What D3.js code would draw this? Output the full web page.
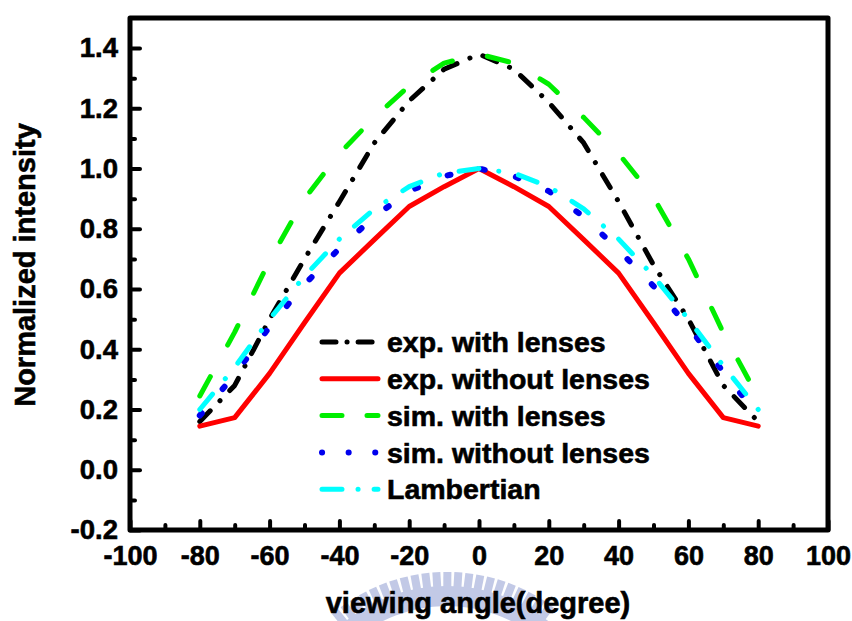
<!DOCTYPE html>
<html>
<head>
<meta charset="utf-8">
<script src="https://cdn.jsdelivr.net/npm/d3@7"></script>
<style>
  html, body { margin: 0; padding: 0; background: #fff; }
  svg { display: block; font-family: "Liberation Sans", Arial, sans-serif; font-weight: bold; }
  svg text { stroke: #000; stroke-width: 0.6px; }
</style>
</head>
<body>
<svg id="chart" width="852" height="621"></svg>
<script>
// Viewing angles (degrees) at which intensity was sampled
const angles = [-80, -70, -60, -50, -40, -30, -20, -10, 0, 10, 20, 30, 40, 50, 60, 70, 80];

// Normalized intensity series
const expWithLenses    = [0.16, 0.28, 0.50, 0.70, 0.89, 1.085, 1.225, 1.33, 1.38, 1.33, 1.22, 1.085, 0.89, 0.68, 0.50, 0.28, 0.16];
const expWithoutLenses = [0.145, 0.173, 0.32, 0.488, 0.653, 0.764, 0.874, 0.94, 1.0, 0.94, 0.874, 0.764, 0.653, 0.488, 0.32, 0.173, 0.145];
const simWithLenses    = [0.245, 0.457, 0.695, 0.90, 1.05, 1.17, 1.275, 1.35, 1.38, 1.35, 1.28, 1.17, 1.05, 0.905, 0.70, 0.455, 0.24];
const simWithoutLenses = [0.18, 0.315, 0.475, 0.615, 0.735, 0.84, 0.925, 0.975, 1.0, 0.975, 0.925, 0.84, 0.73, 0.61, 0.475, 0.325, 0.18];
const lambertian       = [0.20, 0.34, 0.50, 0.643, 0.766, 0.866, 0.94, 0.985, 1.0, 0.985, 0.94, 0.866, 0.766, 0.643, 0.50, 0.345, 0.20];

const seriesNames = ["exp. with lenses", "exp. without lenses", "sim. with lenses", "sim. without lenses", "Lambertian"];

// Axis ticks
const xMajorTicks = [-100, -80, -60, -40, -20, 0, 20, 40, 60, 80, 100];
const xMinorTicks = [-90, -70, -50, -30, -10, 10, 30, 50, 70, 90];
const yMajorTicks = [-0.2, 0.0, 0.2, 0.4, 0.6, 0.8, 1.0, 1.2, 1.4];
const yMinorTicks = [-0.1, 0.1, 0.3, 0.5, 0.7, 0.9, 1.1, 1.3];

const svg = d3.select("#chart");
const plotLeft = 130, plotRight = 828, plotTop = 18, plotBottom = 530;

const x = d3.scaleLinear().domain([-100, 100]).range([plotLeft, plotRight]);
const y = d3.scaleLinear().domain([-0.2, 1.5]).range([plotBottom, plotTop]);

// Tick label formats using a plain hyphen for negatives
const hyphen = f => d => f(d).replace("\u2212", "-");
const fmtX = hyphen(d3.format("d"));
const fmtY = hyphen(d3.format(".1f"));

// Faint emblem watermark behind the axis title
const wm = svg.append("g").attr("fill", "#b3bce0").attr("opacity", 0.8);
const wmCx = 447, wmCy = 750, wmR = 178;
wm.append("path")
  .attr("d", d3.arc().innerRadius(wmR - 34).outerRadius(wmR - 14).startAngle(-0.72).endAngle(0.70)())
  .attr("transform", `translate(${wmCx},${wmCy})`);
d3.range(-0.68, 0.68, 0.062).forEach(a => {
  wm.append("rect")
    .attr("x", -4).attr("y", -wmR).attr("width", 8).attr("height", 18)
    .attr("transform", `translate(${wmCx},${wmCy}) rotate(${a * 180 / Math.PI})`);
});

// Axes with inward ticks
const tickStyle = g => {
  g.select(".domain").remove();
  g.selectAll(".tick line").attr("stroke", "#000").attr("stroke-width", 4).attr("stroke-linecap", "round");
  g.selectAll(".tick text").attr("fill", "#000").attr("font-weight", "bold")
    .attr("font-family", "Liberation Sans, Arial, sans-serif");
};

svg.append("g")
  .attr("transform", `translate(0,${plotBottom})`)
  .call(d3.axisBottom(x).tickValues(xMinorTicks).tickSize(-5).tickFormat(""))
  .call(tickStyle);
svg.append("g")
  .attr("transform", `translate(0,${plotBottom})`)
  .call(d3.axisBottom(x).tickValues(xMajorTicks).tickSize(-9).tickPadding(16).tickFormat(fmtX))
  .call(tickStyle)
  .call(g => g.selectAll(".tick text").attr("font-size", 27));

svg.append("g")
  .attr("transform", `translate(${plotLeft},0)`)
  .call(d3.axisLeft(y).tickValues(yMinorTicks).tickSize(-5).tickFormat(""))
  .call(tickStyle);
svg.append("g")
  .attr("transform", `translate(${plotLeft},0)`)
  .call(d3.axisLeft(y).tickValues(yMajorTicks).tickSize(-10).tickPadding(12).tickFormat(fmtY))
  .call(tickStyle)
  .call(g => g.selectAll(".tick text").attr("font-size", 27.5));

// Series lines
const line = d3.line().x((d, i) => x(angles[i])).y(d => y(d));

const styles = [
  { data: expWithLenses,    color: "#000000", dash: "15,14,0.1,14", legendDash: "14,11,0.1,11", width: 5 },
  { data: expWithoutLenses, color: "#ff0000", dash: null,           legendDash: null,           width: 5 },
  { data: simWithLenses,    color: "#00ee00", dash: "22,36",        legendDash: "20,25",        width: 5 },
  { data: simWithoutLenses, color: "#0000ee", dash: "3,32",         legendDash: "0.1,26.5",     width: 6 },
  { data: lambertian,       color: "#00ffff", dash: "20,20,0.1,20", legendDash: "20,16,0.1,16", width: 5 }
];

const plot = svg.append("g");
styles.forEach(s => {
  plot.append("path")
    .datum(s.data)
    .attr("d", line)
    .attr("fill", "none")
    .attr("stroke", s.color)
    .attr("stroke-width", s.width)
    .attr("stroke-linecap", "round")
    .attr("stroke-linejoin", "round")
    .attr("stroke-dasharray", s.dash);
});

// Legend
const legend = svg.append("g");
const legendX0 = 322, legendX1 = 378, legendY0 = 342, legendDy = 36.8;
styles.forEach((s, i) => {
  const ly = legendY0 + i * legendDy;
  legend.append("line")
    .attr("x1", legendX0).attr("x2", legendX1)
    .attr("y1", ly).attr("y2", ly)
    .attr("stroke", s.color)
    .attr("stroke-width", s.width)
    .attr("stroke-linecap", "round")
    .attr("stroke-dasharray", s.legendDash);
  legend.append("text")
    .attr("x", 387).attr("y", ly)
    .attr("dy", "0.36em")
    .attr("font-size", 28.5)
    .attr("fill", "#000")
    .text(seriesNames[i]);
});

// Plot frame
svg.append("rect")
  .attr("x", plotLeft).attr("y", plotTop)
  .attr("width", plotRight - plotLeft).attr("height", plotBottom - plotTop)
  .attr("fill", "none")
  .attr("stroke", "#000")
  .attr("stroke-width", 5)
  .attr("stroke-linejoin", "round");

// Axis titles
svg.append("text")
  .attr("x", 478).attr("y", 613)
  .attr("text-anchor", "middle")
  .attr("font-size", 29)
  .attr("fill", "#000")
  .text("viewing angle(degree)");

svg.append("text")
  .attr("transform", "translate(35,265) rotate(-90)")
  .attr("text-anchor", "middle")
  .attr("font-size", 29)
  .attr("fill", "#000")
  .text("Normalized intensity");
</script>
</body>
</html>
